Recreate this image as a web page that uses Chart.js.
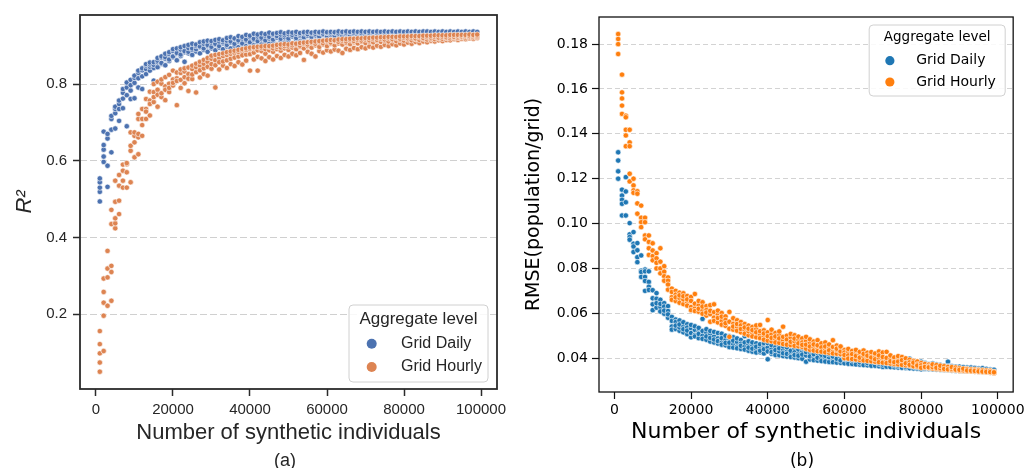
<!DOCTYPE html>
<html>
<head>
<meta charset="utf-8">
<script src="https://cdn.jsdelivr.net/npm/chart.js@4.4.1/dist/chart.umd.min.js"></script>
<style>
  html, body { margin: 0; padding: 0; background: #fff; }
  #wrap { position: relative; width: 1028px; height: 468px; overflow: hidden; }
  .panel { position: absolute; top: 0; width: 514px; height: 468px; }
  .tag { position: absolute; top: 449px; width: 80px; text-align: center; line-height: 22px; }
</style>
</head>
<body>
<div id="wrap">
  <div class="panel" style="left:0"><canvas id="chartR2" width="514" height="468"></canvas></div>
  <div class="panel" style="left:514px"><canvas id="chartRmse" width="514" height="468"></canvas></div>
  <div class="tag" style="left:245px; font-family:'Liberation Sans', Arial, sans-serif; font-size:18px; color:#262626">(a)</div>
  <div class="tag" style="left:762px; font-family:'DejaVu Sans', sans-serif; font-size:17px; color:#000">(b)</div>
</div>
<script>
// number of synthetic individuals (x), one row of repeated runs per size
const sizes = [
  1000, 2000, 3000, 4000, 5000, 6000, 7000, 8000, 9000, 10000,
  11000, 12000, 13000, 14000, 15000, 16000, 17000, 18000, 19000, 20000,
  21000, 22000, 23000, 24000, 25000, 26000, 27000, 28000, 29000, 30000,
  31000, 32000, 33000, 34000, 35000, 36000, 37000, 38000, 39000, 40000,
  41000, 42000, 43000, 44000, 45000, 46000, 47000, 48000, 49000, 50000,
  51000, 52000, 53000, 54000, 55000, 56000, 57000, 58000, 59000, 60000,
  61000, 62000, 63000, 64000, 65000, 66000, 67000, 68000, 69000, 70000,
  71000, 72000, 73000, 74000, 75000, 76000, 77000, 78000, 79000, 80000,
  81000, 82000, 83000, 84000, 85000, 86000, 87000, 88000, 89000, 90000,
  91000, 92000, 93000, 94000, 95000, 96000, 97000, 98000, 99000
];
const seriesNames = ['Grid Daily', 'Grid Hourly'];

// (a) R^2
const r2Daily = [
  [.494,.519,.530,.544,.554], [.597,.611,.629,.641,.676], [.532,.587,.658,.670], [.622,.681,.709,.717], [.684,.724,.735,.741],
  [.704,.735,.748,.757], [.737,.762,.777,.787], [.690,.771,.791,.804], [.761,.783,.797,.811], [.763,.803,.816,.822],
  [.791,.815,.829,.835], [.787,.820,.836,.841], [.826,.839,.848,.852], [.835,.845,.851,.856], [.809,.842,.850,.857],
  [.844,.857,.861,.868], [.853,.855,.869,.872], [.849,.866,.870,.879], [.860,.864,.878,.883], [.870,.872,.886,.891],
  [.862,.879,.881,.893], [.873,.877,.890,.896], [.858,.883,.886,.899], [.880,.884,.894,.902], [.876,.889,.893,.905],
  [.885,.891,.899,.903], [.880,.896,.898,.909], [.889,.893,.905,.911], [.884,.899,.902,.913], [.893,.897,.908,.912],
  [.888,.903,.905,.915], [.895,.899,.911,.917], [.891,.906,.909,.914], [.898,.902,.913,.920], [.893,.908,.911,.922],
  [.900,.905,.917,.919], [.896,.911,.914,.925], [.903,.906,.919,.923], [.899,.913,.916,.928], [.905,.909,.922,.926],
  [.901,.915,.918,.931], [.907,.912,.924,.929], [.903,.917,.921,.932], [.909,.914,.926,.930], [.905,.919,.923,.934],
  [.911,.916,.928,.931], [.904,.921,.925,.933], [.912,.918,.929,.935], [.908,.922,.927,.932], [.914,.919,.930,.935],
  [.906,.924,.928,.934], [.915,.920,.931,.936], [.911,.925,.929,.933], [.916,.922,.932,.935], [.909,.926,.930,.936],
  [.917,.923,.932,.934], [.913,.927,.931,.936], [.918,.924,.933,.935], [.912,.928,.931,.937], [.919,.925,.933,.935],
  [.915,.928,.932,.936], [.920,.926,.934,.935], [.914,.929,.932,.937], [.921,.926,.934,.936], [.917,.929,.933,.937],
  [.921,.927,.935,.936], [.916,.930,.933,.937], [.922,.927,.934,.936], [.919,.930,.932,.937], [.923,.928,.935,.936],
  [.918,.931,.933,.937], [.924,.928,.935,.936], [.920,.931,.933,.937], [.924,.929,.934,.936], [.921,.931,.933,.937],
  [.925,.929,.935,.936], [.922,.932,.934,.937], [.925,.929,.935,.936], [.923,.932,.934,.937], [.926,.930,.935,.936],
  [.924,.932,.934,.937], [.926,.930,.935,.936], [.925,.933,.934,.937], [.927,.931,.935,.936], [.925,.933,.934,.937],
  [.928,.931,.935,.937], [.926,.933,.934,.936], [.928,.931,.935,.937], [.927,.933,.934,.936], [.929,.932,.935,.937],
  [.928,.933,.934,.936], [.929,.932,.935,.937], [.928,.933,.934,.936], [.930,.932,.935,.937], [.929,.933,.934,.936],
  [.930,.932,.935,.937], [.929,.933,.934,.936], [.930,.932,.935,.937], [.931,.933,.934,.936]
];
const r2Hourly = [
  [.050,.074,.098,.122,.156], [.104,.196,.230,.258,.293], [.222,.296,.319,.365], [.235,.310,.326,.435,.472], [.424,.437,.450,.493,.548],
  [.461,.496,.535,.563], [.530,.548,.574,.590], [.530,.570,.591,.594], [.544,.626,.639,.674], [.609,.648,.665,.674],
  [.617,.661,.670,.709,.722], [.665,.693,.709,.735], [.709,.735,.728,.761], [.718,.757,.748,.780], [.753,.779,.766,.800],
  [.741,.785,.772,.806], [.766,.776,.801,.812], [.758,.794,.785,.818], [.779,.801,.790,.824], [.796,.812,.803,.835],
  [.745,.815,.808,.830], [.790,.829,.811,.838], [.802,.818,.833,.841], [.782,.826,.814,.843], [.813,.839,.825,.848],
  [.778,.831,.844,.853], [.817,.848,.836,.858], [.826,.841,.853,.863], [.822,.858,.845,.868], [.840,.852,.866,.874],
  [.791,.862,.849,.876], [.838,.868,.857,.878], [.848,.859,.873,.880], [.842,.876,.862,.883], [.852,.866,.879,.885],
  [.847,.881,.869,.887], [.857,.872,.884,.889], [.851,.886,.875,.891], [.861,.877,.889,.893], [.835,.878,.891,.895],
  [.864,.882,.893,.896], [.835,.871,.888,.897], [.867,.886,.894,.898], [.860,.879,.891,.899], [.870,.888,.897,.899],
  [.864,.884,.893,.900], [.873,.891,.897,.902], [.868,.887,.895,.903], [.876,.893,.899,.904], [.872,.889,.898,.903],
  [.879,.895,.901,.906], [.875,.891,.903,.905], [.881,.897,.900,.907], [.863,.893,.905,.908], [.884,.899,.903,.909],
  [.879,.895,.907,.910], [.872,.901,.905,.911], [.886,.897,.909,.912], [.882,.903,.906,.913], [.888,.899,.911,.914],
  [.885,.905,.908,.915], [.890,.901,.912,.914], [.887,.906,.910,.916], [.881,.903,.913,.917], [.892,.907,.911,.917],
  [.889,.904,.914,.918], [.894,.909,.912,.918], [.891,.906,.915,.919], [.896,.910,.913,.919], [.893,.907,.916,.920],
  [.898,.911,.914,.920], [.895,.909,.917,.921], [.900,.912,.915,.921], [.897,.910,.918,.922], [.902,.913,.916,.922],
  [.899,.911,.919,.923], [.904,.914,.917,.923], [.901,.912,.920,.923], [.906,.915,.918,.924], [.903,.913,.920,.924],
  [.908,.916,.919,.924], [.905,.914,.921,.925], [.910,.917,.919,.925], [.907,.915,.922,.925], [.911,.918,.920,.926],
  [.909,.916,.922,.926], [.913,.918,.921,.926], [.911,.917,.923,.927], [.914,.919,.921,.927], [.912,.918,.923,.927],
  [.915,.920,.922,.927], [.914,.919,.924,.928], [.917,.921,.923,.928], [.915,.920,.924,.928], [.918,.922,.924,.928],
  [.917,.921,.925,.928], [.919,.922,.925,.929], [.918,.922,.926,.928], [.920,.923,.926,.929]
];

// (b) RMSE (population/grid)
const rmseDaily = [
  [.1318,.1281,.1233,.1200], [.1151,.1125,.1106,.1088,.1036], [.1207,.1143,.1095,.1036], [.1002,.0952,.0940,.0928], [.0962,.0910,.0898,.0873],
  [.0913,.0881,.0850,.0828], [.0858,.0790,.0784,.0762], [.0795,.0787,.0762,.0744,.0700], [.0787,.0740,.0718,.0704], [.0703,.0667,.0640,.0614],
  [.0665,.0690,.0625,.0645], [.0660,.0628,.0608,.0642], [.0645,.0598,.0630,.0612], [.0632,.0580,.0610,.0595], [.0584,.0541,.0566,.0527],
  [.0572,.0530,.0561,.0545], [.0568,.0522,.0537,.0550], [.0540,.0560,.0515,.0529], [.0551,.0507,.0536,.0523], [.0533,.0548,.0493,.0512],
  [.0504,.0526,.0542,.0497], [.0519,.0489,.0535,.0508], [.0575,.0500,.0486,.0521], [.0482,.0514,.0497,.0529], [.0508,.0474,.0521,.0490],
  [.0496,.0517,.0470,.0483], [.0488,.0465,.0512,.0476], [.0509,.0471,.0489,.0460], [.0457,.0481,.0500,.0468], [.0486,.0449,.0469,.0498],
  [.0462,.0493,.0447,.0478], [.0472,.0451,.0488,.0444], [.0481,.0441,.0464,.0455], [.0498,.0452,.0438,.0470], [.0433,.0461,.0447,.0475],
  [.0458,.0429,.0470,.0442], [.0466,.0437,.0425,.0451], [.0426,.0448,.0462,.0433], [.0452,.0421,.0440,.0467], [.0395,.0447,.0430,.0467],
  [.0441,.0419,.0458,.0427], [.0425,.0449,.0414,.0436], [.0455,.0413,.0431,.0444], [.0409,.0437,.0452,.0422], [.0429,.0448,.0407,.0419],
  [.0488,.0416,.0433,.0405], [.0442,.0403,.0426,.0414], [.0420,.0439,.0400,.0411], [.0397,.0431,.0416,.0445], [.0384,.0473,.0412,.0427],
  [.0470,.0394,.0424,.0408], [.0405,.0436,.0391,.0418], [.0422,.0389,.0433,.0402], [.0398,.0415,.0430,.0387], [.0428,.0395,.0385,.0410],
  [.0440,.0383,.0404,.0417], [.0392,.0421,.0382,.0407], [.0411,.0380,.0425,.0397], [.0379,.0403,.0416,.0390], [.0422,.0377,.0396,.0408],
  [.0386,.0412,.0375,.0400], [.0405,.0374,.0418,.0390], [.0430,.0384,.0372,.0398], [.0371,.0395,.0410,.0381], [.0426,.0380,.0392,.0369],
  [.0389,.0368,.0403,.0378], [.0376,.0400,.0366,.0387], [.0396,.0366,.0383,.0408], [.0364,.0388,.0375,.0398], [.0383,.0361,.0395,.0371],
  [.0370,.0392,.0362,.0380], [.0388,.0365,.0376,.0360], [.0359,.0381,.0393,.0368], [.0377,.0358,.0386,.0366], [.0362,.0374,.0357,.0384],
  [.0380,.0356,.0369,.0361], [.0398,.0366,.0355,.0375], [.0354,.0372,.0362,.0380], [.0368,.0353,.0377,.0359], [.0350,.0375,.0363,.0384],
  [.0365,.0352,.0378,.0358], [.0373,.0357,.0351,.0366], [.0350,.0369,.0361,.0376], [.0363,.0349,.0372,.0356], [.0370,.0355,.0348,.0362],
  [.0347,.0366,.0358,.0352], [.0384,.0351,.0363,.0346], [.0357,.0345,.0364,.0350], [.0362,.0348,.0355,.0344], [.0344,.0358,.0350,.0362],
  [.0353,.0342,.0360,.0347], [.0358,.0346,.0341,.0352], [.0341,.0355,.0349,.0358], [.0350,.0340,.0356,.0345], [.0354,.0344,.0339,.0349],
  [.0338,.0351,.0345,.0355], [.0347,.0337,.0352,.0342], [.0350,.0340,.0336,.0345], [.0334,.0345,.0340,.0348]
];
const rmseHourly = [
  [.1845,.1823,.1800,.1756], [.1664,.1585,.1558,.1526,.1489], [.1481,.1474,.1418,.1393,.1345], [.1418,.1362,.1345,.1222,.1188], [.1200,.1170,.1148,.1137],
  [.1144,.1133,.1090,.1044], [.1080,.1026,.1006,.0984], [.1026,.1006,.0947,.0930], [.0947,.0918,.0890,.0860], [.0912,.0880,.0855,.0836],
  [.0868,.0845,.0825,.0800], [.0890,.0830,.0800,.0778], [.0810,.0785,.0765,.0745], [.0760,.0745,.0728,.0705], [.0710,.0672,.0695,.0660],
  [.0700,.0655,.0683,.0671], [.0668,.0692,.0647,.0680], [.0689,.0641,.0662,.0676], [.0650,.0677,.0634,.0662], [.0673,.0628,.0655,.0614],
  [.0686,.0622,.0643,.0610], [.0636,.0607,.0655,.0620], [.0611,.0649,.0598,.0630], [.0632,.0590,.0614,.0603], [.0636,.0596,.0562,.0611],
  [.0640,.0581,.0605,.0566], [.0594,.0559,.0579,.0612], [.0566,.0601,.0549,.0585], [.0586,.0544,.0570,.0556], [.0606,.0531,.0562,.0495],
  [.0553,.0578,.0527,.0541], [.0539,.0569,.0522,.0552], [.0561,.0515,.0546,.0530], [.0525,.0552,.0509,.0537], [.0545,.0502,.0520,.0531],
  [.0512,.0539,.0497,.0525], [.0530,.0493,.0515,.0546], [.0548,.0505,.0489,.0520], [.0496,.0524,.0482,.0510], [.0570,.0515,.0478,.0498],
  [.0506,.0475,.0527,.0490], [.0484,.0512,.0470,.0497], [.0503,.0468,.0488,.0519], [.0540,.0479,.0463,.0495], [.0466,.0500,.0483,.0460],
  [.0492,.0458,.0508,.0473], [.0475,.0502,.0455,.0487], [.0453,.0481,.0496,.0466], [.0488,.0450,.0470,.0459], [.0442,.0477,.0495,.0460],
  [.0469,.0437,.0484,.0452], [.0448,.0474,.0434,.0461], [.0480,.0441,.0457,.0431], [.0433,.0466,.0448,.0429], [.0470,.0438,.0426,.0452],
  [.0446,.0424,.0461,.0435], [.0480,.0430,.0450,.0421], [.0456,.0420,.0437,.0442], [.0418,.0447,.0430,.0452], [.0436,.0400,.0425,.0414],
  [.0428,.0412,.0398,.0441], [.0405,.0432,.0418,.0396], [.0422,.0394,.0437,.0410], [.0392,.0416,.0428,.0402], [.0434,.0407,.0390,.0419],
  [.0398,.0424,.0388,.0411], [.0415,.0386,.0403,.0427], [.0384,.0410,.0421,.0395], [.0430,.0398,.0382,.0412], [.0393,.0425,.0380,.0405],
  [.0428,.0388,.0401,.0378], [.0396,.0376,.0412,.0386], [.0374,.0392,.0403,.0382], [.0398,.0372,.0385,.0409], [.0380,.0405,.0370,.0391],
  [.0368,.0389,.0399,.0377], [.0393,.0366,.0381,.0370], [.0375,.0364,.0387,.0380], [.0385,.0362,.0372,.0367], [.0378,.0360,.0368,.0357],
  [.0365,.0358,.0374,.0361], [.0371,.0356,.0363,.0359], [.0354,.0367,.0360,.0372], [.0363,.0352,.0369,.0357], [.0350,.0361,.0355,.0366],
  [.0358,.0349,.0364,.0352], [.0348,.0356,.0361,.0350], [.0355,.0347,.0352,.0360], [.0346,.0353,.0358,.0349], [.0344,.0351,.0355,.0348],
  [.0350,.0343,.0346,.0353], [.0342,.0348,.0352,.0345], [.0347,.0341,.0350,.0344], [.0340,.0345,.0349,.0343], [.0344,.0339,.0347,.0341],
  [.0338,.0343,.0346,.0340], [.0342,.0337,.0345,.0339], [.0336,.0341,.0344,.0338], [.0335,.0339,.0333,.0337]
];

const sizeTicks = [0, 20000, 40000, 60000, 80000, 100000];
const r2Ticks = [0.2, 0.4, 0.6, 0.8];
const rmseTicks = [0.04, 0.06, 0.08, 0.10, 0.12, 0.14, 0.16, 0.18];

function toPoints(rows) {
  const pts = [];
  rows.forEach((row, i) => row.forEach(v => pts.push({ x: sizes[i], y: v })));
  return pts;
}

// box around the plot area (matplotlib spines)
const framePlugin = {
  id: 'frame',
  afterDatasetsDraw(chart, args, opts) {
    const a = chart.chartArea, ctx = chart.ctx;
    ctx.save();
    ctx.strokeStyle = opts.color;
    ctx.lineWidth = opts.width;
    ctx.strokeRect(a.left, a.top, a.width, a.height);
    ctx.restore();
  }
};

// legend box with a title, drawn inside the plot area
const boxLegend = {
  id: 'boxLegend',
  afterDraw(chart, args, o) {
    const a = chart.chartArea, ctx = chart.ctx;
    const left = a.right - o.right - o.width;
    const top = o.bottom !== undefined ? a.bottom - o.bottom - o.height : a.top + o.top;
    const r = 4;
    ctx.save();
    ctx.beginPath();
    ctx.moveTo(left + r, top);
    ctx.arcTo(left + o.width, top, left + o.width, top + o.height, r);
    ctx.arcTo(left + o.width, top + o.height, left, top + o.height, r);
    ctx.arcTo(left, top + o.height, left, top, r);
    ctx.arcTo(left, top, left + o.width, top, r);
    ctx.closePath();
    ctx.fillStyle = 'rgba(255,255,255,0.85)';
    ctx.fill();
    ctx.strokeStyle = '#d0d0d0';
    ctx.lineWidth = 1;
    ctx.stroke();

    ctx.textBaseline = 'middle';
    ctx.fillStyle = o.textColor;
    ctx.font = o.titleFont;
    ctx.textAlign = 'center';
    ctx.fillText(o.title, left + o.width / 2, top + o.titleY);
    ctx.font = o.labelFont;
    ctx.textAlign = 'left';
    chart.data.datasets.forEach((ds, i) => {
      const y = top + o.rowY[i];
      ctx.beginPath();
      ctx.arc(left + o.markerX, y, o.markerR, 0, Math.PI * 2);
      ctx.fillStyle = ds.backgroundColor;
      ctx.fill();
      ctx.fillStyle = o.textColor;
      ctx.fillText(ds.label, left + o.labelX, y);
    });
    ctx.restore();
  }
};

function buildChart(id, c) {
  return new Chart(document.getElementById(id), {
    type: 'scatter',
    data: {
      datasets: [
        { label: seriesNames[0], data: toPoints(c.daily), backgroundColor: c.colors[0], order: 1 },
        { label: seriesNames[1], data: toPoints(c.hourly), backgroundColor: c.colors[1], order: 0 }
      ]
    },
    options: {
      responsive: false,
      animation: false,
      events: [],
      layout: { padding: c.padding },
      elements: { point: { radius: c.pointR, borderColor: '#ffffff', borderWidth: 0.6, hoverRadius: c.pointR } },
      plugins: {
        legend: { display: false },
        tooltip: { enabled: false },
        frame: { color: c.axisColor, width: c.spineWidth },
        boxLegend: c.legend
      },
      scales: {
        x: {
          type: 'linear',
          min: c.xMin,
          max: c.xMax,
          afterBuildTicks: s => { s.ticks = sizeTicks.map(v => ({ value: v })); },
          afterFit: s => { s.height = c.xHeight; },
          ticks: { callback: v => String(v), color: c.textColor, padding: c.xTickPad, maxRotation: 0,
                   font: { family: c.family, size: c.tickSize } },
          grid: { drawOnChartArea: false, tickLength: 7, tickColor: c.axisColor, tickWidth: c.tickWidth },
          border: { display: false },
          title: { display: true, text: 'Number of synthetic individuals', color: c.textColor,
                   font: { family: c.family, size: 22 }, padding: { top: 0, bottom: c.xTitlePad } }
        },
        y: {
          type: 'linear',
          min: c.yMin,
          max: c.yMax,
          afterBuildTicks: s => { s.ticks = c.yTicks.map(v => ({ value: v })); },
          afterFit: s => { s.width = c.yWidth; },
          ticks: { callback: v => v.toFixed(c.yDigits), color: c.textColor, padding: c.yTickPad,
                   font: { family: c.family, size: c.tickSize } },
          grid: { color: c.gridColor, lineWidth: 1, tickLength: 7, tickColor: c.axisColor, tickWidth: c.tickWidth },
          border: { display: false, dash: c.gridDash },
          title: { display: true, text: c.yTitle, color: c.textColor, font: c.yTitleFont,
                   padding: { top: c.yTitlePad, bottom: 0 } }
        }
      }
    },
    plugins: [framePlugin, boxLegend]
  });
}

const sansA = "'Liberation Sans', Arial, sans-serif";
const sansB = "'DejaVu Sans', sans-serif";

buildChart('chartR2', {
  daily: r2Daily, hourly: r2Hourly,
  colors: ['#4c72b0', '#dd8452'],
  padding: { left: 0, right: 17, top: 15, bottom: 0 },
  pointR: 2.7,
  xMin: -4150, xMax: 104150, yMin: 0.005, yMax: 0.98,
  xHeight: 79, yWidth: 80,
  yTicks: r2Ticks, yDigits: 1,
  family: sansA, tickSize: 15, textColor: '#262626', axisColor: '#2b2b2b',
  spineWidth: 1.8, tickWidth: 1.5,
  gridColor: '#d0d0d0', gridDash: [7, 3],
  xTickPad: 5, yTickPad: 6, xTitlePad: 22,
  yTitle: 'R²', yTitleFont: { family: sansA, size: 22, style: 'italic' }, yTitlePad: 12,
  legend: {
    width: 139, height: 77, right: 9, bottom: 7,
    title: 'Aggregate level', titleY: 14, rowY: [38.7, 62],
    markerX: 22.7, markerR: 5, labelX: 52,
    titleFont: "17px 'Liberation Sans', Arial, sans-serif", labelFont: "16px 'Liberation Sans', Arial, sans-serif",
    textColor: '#262626'
  }
});

buildChart('chartRmse', {
  daily: rmseDaily, hourly: rmseHourly,
  colors: ['#1f77b4', '#ff7f0e'],
  padding: { left: 0, right: 12, top: 17, bottom: 0 },
  pointR: 2.7,
  xMin: -4000, xMax: 104000, yMin: 0.0249, yMax: 0.1921,
  xHeight: 76, yWidth: 85,
  yTicks: rmseTicks, yDigits: 2,
  family: sansB, tickSize: 14, textColor: '#000000', axisColor: '#111111',
  spineWidth: 1.3, tickWidth: 1.2,
  gridColor: '#d3d3d3', gridDash: [5, 3],
  xTickPad: 3, yTickPad: 4, xTitlePad: 23,
  yTitle: 'RMSE(population/grid)', yTitleFont: { family: sansB, size: 19 }, yTitlePad: 9,
  legend: {
    width: 136, height: 71, right: 8, top: 8,
    title: 'Aggregate level', titleY: 12.7, rowY: [35.7, 57],
    markerX: 20.7, markerR: 4.6, labelX: 47,
    titleFont: "13.5px 'DejaVu Sans', sans-serif", labelFont: "14px 'DejaVu Sans', sans-serif",
    textColor: '#000000'
  }
});
</script>
</body>
</html>
